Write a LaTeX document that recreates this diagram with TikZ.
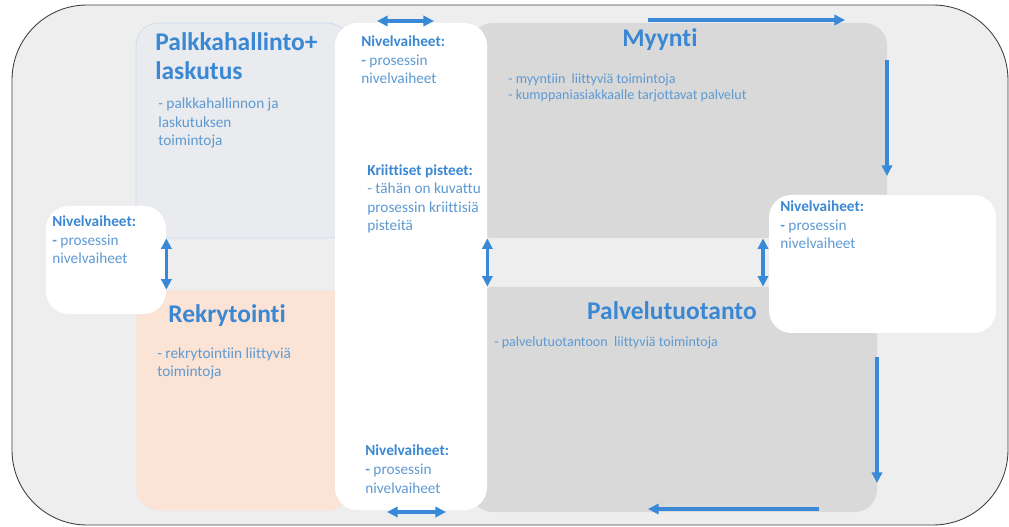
\documentclass[tikz,border=0pt]{standalone}
\usepackage{fontspec}
\setmainfont{Carlito}[Ligatures = NoCommon]
\usetikzlibrary{arrows.meta,fit}

\definecolor{taustaharmaa}{HTML}{EEEEEE}
\definecolor{palkkasavy}{HTML}{E9EBEE}
\definecolor{reunasini}{HTML}{C9DCEF}
\definecolor{rekrysavy}{HTML}{FBE4D5}
\definecolor{harmaa}{HTML}{D9D9D9}
\definecolor{otsikkosini}{HTML}{3A87D4}
\definecolor{tekstisini}{HTML}{5E9AD2}
\definecolor{nuolisini}{HTML}{3A88D8}

\tikzset{
  laatikko/.style = {rounded corners = 0.45cm, inner sep = 0pt},
  valkoinen/.style = {laatikko, fill = white},
  otsikko/.style = {text = otsikkosini, font = \fontsize{14.5}{17}\selectfont\bfseries, inner sep = 0pt, align = left},
  leipa/.style = {text = tekstisini, font = \fontsize{8.7}{10.6}\selectfont, inner sep = 0pt, align = left},
  pieni/.style = {leipa, font = \fontsize{8}{9.4}\selectfont},
  nuoli/.style = {draw = nuolisini, line width = 2.1pt, -{Triangle[length = 6pt, width = 5.8pt]}},
  kaksinuoli/.style = {nuoli, {Triangle[length = 6pt, width = 5.8pt]}-{Triangle[length = 6pt, width = 5.8pt]}}
}
\newcommand{\nivel}{{\bfseries\color{otsikkosini}Nivelvaiheet:}\\{\bfseries -} prosessin\\nivelvaiheet}

\begin{document}
\begin{tikzpicture}[x = 0.02cm, y = -0.02cm]
  \useasboundingbox (0, 0) rectangle (1009, 527);

  % tausta
  \draw[fill = taustaharmaa, draw = black!75, line width = 0.5pt, rounded corners = 1.5cm] (12, 5) rectangle (1008, 525);

  % osa-alueet
  \node[laatikko, fill = palkkasavy, draw = reunasini, fit = {(136, 23) (350, 238)}] (palkka) {};
  \node[laatikko, fill = rekrysavy, draw = reunasini!50, fit = {(136, 290) (350, 511)}] (rekry) {};
  \node[laatikko, fill = harmaa, fit = {(470, 23) (887, 238)}] (myynti) {};
  \node[laatikko, fill = harmaa, fit = {(470, 287) (877, 512)}] (palvelu) {};

  % valkoiset laatikot
  \node[valkoinen, fit = {(335, 23) (487, 510)}] (sarake) {};
  \node[valkoinen, fit = {(46, 206) (166, 314)}] (vasen) {};
  \node[valkoinen, fit = {(769, 195) (996, 333)}] (oikea) {};

  % otsikot (base = viimeisen rivin perusviiva)
  \node[otsikko, anchor = base west] (palkkaotsikko) at (155, 80) {Palkkahallinto+\\laskutus};
  \node[otsikko, anchor = base] (myyntiotsikko) at (660, 47) {Myynti};
  \node[otsikko, anchor = base west] (rekryotsikko) at (168, 323) {Rekrytointi};
  \node[otsikko, anchor = base east] (palveluotsikko) at (757, 319) {Palvelutuotanto};

  % tekstit
  \node[leipa, anchor = base west] (palkkateksti) at (158, 146) {- palkkahallinnon ja\\laskutuksen\\toimintoja};
  \node[pieni, anchor = base west] (myyntiteksti) at (508, 100) {- myyntiin\ \ liittyviä toimintoja\\- kumppaniasiakkaalle tarjottavat palvelut};
  \node[leipa, anchor = base west] (rekryteksti) at (157, 377) {- rekrytointiin liittyviä\\toimintoja};
  \node[pieni, anchor = base west] (palveluteksti) at (494, 347) {- palvelutuotantoon\ \ liittyviä toimintoja};

  \node[leipa, anchor = base west] (sarakeyla) at (361, 84) {\nivel};
  \node[leipa, anchor = base west] (kriittiset) at (367, 231) {{\bfseries\color{otsikkosini}Kriittiset pisteet:}\\- tähän on kuvattu\\prosessin kriittisiä\\pisteitä};
  \node[leipa, anchor = base west] (sarakeala) at (365, 493) {\nivel};
  \node[leipa, anchor = base west] (vasenteksti) at (52, 264) {\nivel};
  \node[leipa, anchor = base west] (oikeateksti) at (780, 249) {\nivel};

  % nuolten vapaat päät
  \coordinate (ylavasen) at (377, 21);
  \coordinate (ylaoikea) at (434, 21);
  \coordinate (myyntialku) at (648, 20);
  \coordinate (myyntiloppu) at (845, 20);
  \coordinate (kulmaylä) at (887, 60);
  \coordinate (kulmaala) at (887, 176);
  \coordinate (palveluyla) at (877, 357);
  \coordinate (palveluala) at (877, 483);
  \coordinate (alaoikea) at (819, 509);
  \coordinate (alavasen) at (648, 509);
  \coordinate (alakaksi) at (387, 512);
  \coordinate (alakaksib) at (446, 512);
  \coordinate (oikeapysty) at (763, 0);

  % nuolet
  \draw[kaksinuoli] (ylavasen) -- (ylaoikea);
  \draw[nuoli] (myyntialku) -- (myyntiloppu);
  \draw[nuoli] (kulmaylä) -- (kulmaala);
  \draw[kaksinuoli] (vasen.east |- palkka.south) -- (vasen.east |- rekry.north);
  \draw[kaksinuoli] (sarake.east |- myynti.south) -- (sarake.east |- palvelu.north);
  \draw[kaksinuoli] (oikeapysty |- myynti.south) -- (oikeapysty |- palvelu.north);
  \draw[nuoli] (palveluyla) -- (palveluala);
  \draw[nuoli] (alaoikea) -- (alavasen);
  \draw[kaksinuoli] (alakaksi) -- (alakaksib);
\end{tikzpicture}
\end{document}
